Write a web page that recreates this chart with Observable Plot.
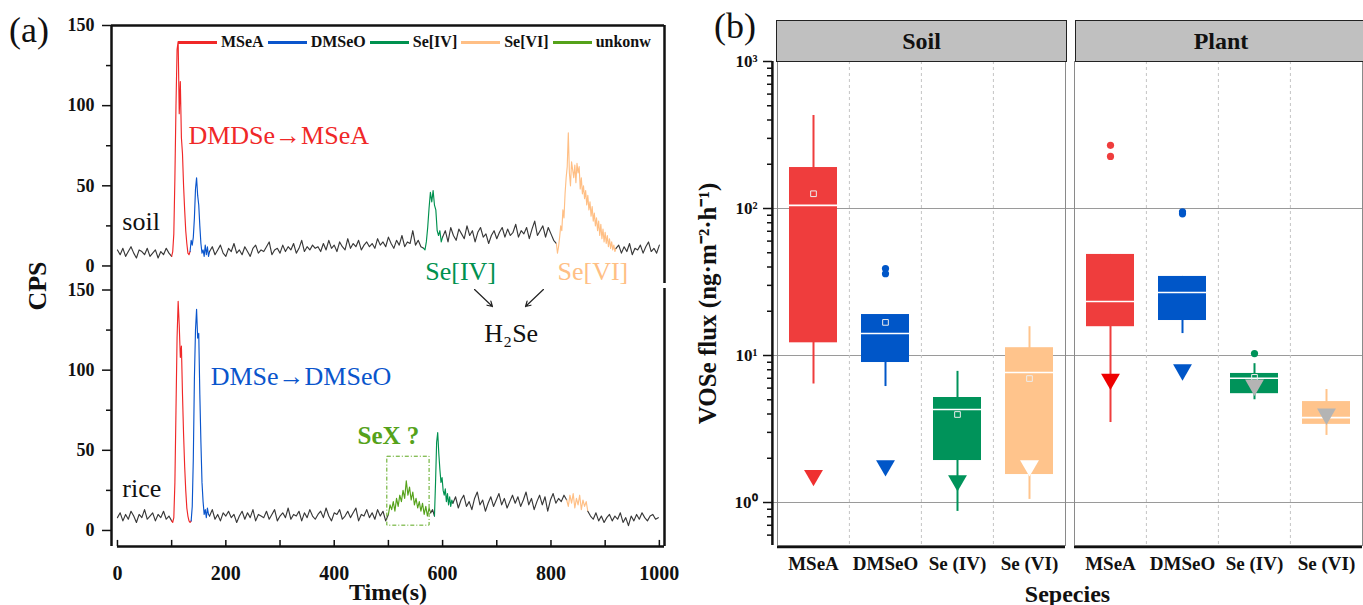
<!DOCTYPE html>
<html><head><meta charset="utf-8">
<script src="https://cdn.jsdelivr.net/npm/d3@7"></script>
<script src="https://cdn.jsdelivr.net/npm/@observablehq/plot@0.6"></script>
<style>
html,body{margin:0;padding:0;background:#fff;}
#root{position:relative;width:1363px;height:605px;overflow:hidden;font-family:"Liberation Serif","Times New Roman",Times,serif;color:#111;}
#panelA,#panelB{position:absolute;top:0;}
#panelA{left:0}
#panelB{left:690px}
.tag{position:absolute;font-size:36px;line-height:1;}
.legend{position:absolute;display:flex;align-items:center;font-weight:bold;font-size:16px;white-space:nowrap;line-height:1;}
.legend .sw{display:inline-block;width:39px;height:0;border-top:3px solid;margin:0 4px}
.strip{position:absolute;background:#c0c0c0;border:1.5px solid #222;box-sizing:border-box;display:flex;align-items:center;justify-content:center;font-weight:bold;font-size:24px;}
#panelA g[aria-label="y-axis label"] text{font-size:26px !important;font-weight:bold !important;}
#panelA g[aria-label="x-axis label"] text{font-size:24px !important;font-weight:bold !important;}
#panelB g[aria-label="y-axis label"] text{font-size:25px !important;font-weight:bold !important;}
#panelB g[aria-label="x-axis label"] text{font-size:24px !important;font-weight:bold !important;}
</style>
</head>
<body>
<div id="root">
  <div id="panelA"></div>
  <div id="panelB"></div>
</div>
<script>
// ---------------- DATA: panel (a) chromatograms ----------------
// each segment: [species, start time (s), sampling step (s), CPS values]
const soilSegments = [
  ["background", 0, 5, [10,7,11,6,9,12,8,5,10,9,7,11,6,8,10,5,9,7,11,8,6]],
  ["MSeA", 100, 2, [6,9,20,55,100,135,140,95,115,80,70,50,35,22,14,8,7,9]],
  ["DMSeO", 134, 2, [9,16,13,18,30,48,55,44,38,25,14,8,10,6,13,7,12,6,9]],
  ["background", 170, 5, [9,12,7,10,13,8,6,11,9,14,8,10,7,12,9,6,11,13,8,10,
                          9,12,15,7,10,11,8,13,9,12,10,14,8,11,16,9,12,10,13,11,
                          12,9,14,10,16,11,13,9,15,12,10,17,11,14,12,16,10,13,15,12,
                          14,11,17,13,15,12,18,14,11,16,13,19,12,15,14,22,13,16,12,11]],
  ["Se[IV]", 565, 2.5, [11,10,15,24,36,46,40,47,38,35,22,19,22,15,18]],
  ["background", 600, 5, [18,22,15,24,19,16,23,20,17,25,19,22,15,21,24,18,20,14,19,22,
                          17,21,24,18,23,19,21,26,18,22,20,24,17,23,28,19,22,25,18,24,20,16,14]],
  ["Se[VI]", 810, 2, [14,8,12,18,25,22,35,30,45,55,62,83,58,50,65,60,55,63,52,64,58,62,48,55,45,50,
                      42,47,38,44,35,40,31,37,28,33,25,30,22,28,19,26,17,23,15,21,14,19,12,17,11,15,10,13,9,11]],
  ["background", 920, 5, [11,13,8,12,9,14,7,11,10,13,8,12,15,9,11,8,13]]
];
const riceSegments = [
  ["background", 0, 5, [8,11,6,10,7,12,9,5,10,8,13,7,9,11,6,10,8,12,7,9,6]],
  ["MSeA", 100, 2, [6,5,8,30,75,120,143,128,108,115,85,60,40,25,14,9,6,5,6]],
  ["DMSeO", 136, 2, [6,15,45,95,125,138,120,123,85,55,30,18,10,13,8,14,10,9]],
  ["background", 170, 5, [9,13,7,10,6,11,9,12,8,10,5,9,12,7,11,8,13,6,10,9,
                          8,12,7,10,13,6,9,11,8,14,7,10,9,12,6,11,8,13,9,7,
                          10,12,8,14,9,6,11,10,13,7,9,12,8,11,14,6,10,9,13,8,
                          11,7,13,9,12,6,10]],
  ["unkonw", 500, 3, [10,16,13,18,12,20,15,22,18,25,20,31,22,27,19,24,16,20,14,18,12,17,10,15,9,14,11]],
  ["background", 578, 3.5, [11,13,9]],
  ["Se[IV]", 585, 2, [9,30,55,61,48,38,30,33,25,22,26,18,23,16,21,15,19,17]],
  ["background", 619, 5, [17,21,14,19,22,15,18,13,20,24,16,19,12,17,21,15,19,23,16,20,
                          14,18,22,17,21,15,19,24,16,20,13,18,22,16,21,12,19,23,17,20,18,22,19]],
  ["Se[VI]", 829, 3, [19,15,22,17,23,14,20,16,22,13,19,15,18,12]],
  ["background", 868, 5, [12,9,7,11,6,9,5,8,10,6,9,7,11,5,8,3,9,6,10,7,11,8,6,9,10,7,8]]
];
const legendSpecies = ["MSeA", "DMSeO", "Se[IV]", "Se[VI]", "unkonw"];
const cpsTicks = [0, 50, 100, 150];
const cpsMinorTicks = [25, 75, 125];
const timeTicks = [0, 200, 400, 600, 800, 1000];
const timeMinorTicks = [100, 300, 500, 700, 900];

// annotations of panel (a)
const annoText  = ["DMDSe→MSeA", "soil", "Se[IV]", "Se[VI]", "H₂Se", "DMSe→DMSeO", "rice"];
const annoTrace = ["soil", "soil", "soil", "soil", "rice", "rice", "rice"];
const annoTime  = [131, 9, 568, 812, 677, 172, 9];
const annoCps   = [81.5, 27.5, -3.4, -3.4, 122.5, 96, 26];
const annoKind  = ["MSeA", "background", "Se[IV]", "Se[VI]", "background", "DMSeO", "background"];
const sexLabel = {text: "SeX ?", time: 443, cps: 59};
const sexBox = {t1: 498, t2: 576, c1: 3, c2: 46};
const arrowFromTime = [659, 786], arrowToTime = [692, 753];
const arrowFromCps = [150.3, 150.3], arrowToCps = [139.7, 139.7];

// ---------------- DATA: panel (b) box plots ----------------
const groups = ["Soil", "Plant"];
const species = ["MSeA", "DMSeO", "Se (IV)", "Se (VI)"];
const soilLow      = [6.4, 6.15, 0.87, 1.05];
const soilQ1       = [12.2, 8.96, 1.93, 1.55];
const soilMedian   = [105, 14.1, 4.29, 7.66];
const soilQ3       = [190, 19.0, 5.18, 11.3];
const soilHigh     = [429, 19.0, 7.8, 15.7];
const soilMean     = [126, 16.8, 3.97, 6.97];
const soilTriangle = [1.53, 1.78, 1.41, 1.78];
const soilOutliers = [[], [39, 36], [], []];
const plantLow      = [3.5, 14.1, 5.0, 2.86];
const plantQ1       = [15.7, 17.3, 5.5, 3.4];
const plantMedian   = [23.3, 26.8, 7.0, 3.78];
const plantQ3       = [48.7, 34.5, 7.55, 4.86];
const plantHigh     = [48.7, 34.5, 8.8, 5.87];
const plantMean     = [null, null, 7.1, null];
const plantTriangle = [6.9, 8.0, 6.3, 4.0];
const plantOutliers = [[269, 226], [95, 92], [10.3], []];
const decadeTicks = [1, 10, 100, 1000];
const minorLogTicks = [0.6,0.7,0.8,0.9,2,3,4,5,6,7,8,9,20,30,40,50,60,70,80,90,200,300,400,500,600,700,800,900];

// ---------------- STYLES ----------------
const SERIF = '"Liberation Serif","Times New Roman",Times,serif';
const traceColor = {"background": "#383838", "MSeA": "#f02828", "DMSeO": "#0a55cc", "Se[IV]": "#00914f", "Se[VI]": "#ffbf85", "unkonw": "#55a21a"};
const boxColor = {"MSeA": "#ef3d3d", "DMSeO": "#0056c8", "Se (IV)": "#00935a", "Se (VI)": "#ffc48c"};
const triangleColor = {
  "Soil":  {"MSeA": "#ef3030", "DMSeO": "#0056c8", "Se (IV)": "#00935a", "Se (VI)": "#ffffff"},
  "Plant": {"MSeA": "#ee0000", "DMSeO": "#0056c8", "Se (IV)": "#b4b4b4", "Se (VI)": "#b4b4b4"}
};
const OFFSET = 165;        // vertical offset of the soil trace inside panel (a)
const xDomainA = [-11, 1009.5];
const yDomainA = [-10, 315];
const yDomainB = [0.51, 1000];

// ---------------- PANEL (a) ----------------
const rows = [];
function addTrace(segments, trace) {
  segments.forEach(([sp, start, step, vals], i) => {
    vals.forEach((v, j) => rows.push({t: start + j * step, cps: v, y: v + (trace === "soil" ? OFFSET : 0), species: sp, seg: trace + i}));
  });
}
addTrace(soilSegments, "soil");
addTrace(riceSegments, "rice");

const annos = annoText.map((text, i) => ({text, t: annoTime[i], y: annoCps[i] + (annoTrace[i] === "soil" ? OFFSET : 0), kind: annoKind[i]}));
const arrows = arrowFromTime.map((t, i) => ({x1: t, x2: arrowToTime[i], y1: arrowFromCps[i], y2: arrowToCps[i]}));
const yMajorA = [...cpsTicks, ...cpsTicks.map(d => d + OFFSET)];
const yMinorA = [...cpsMinorTicks, ...cpsMinorTicks.map(d => d + OFFSET)];
const cpsFmt = d => String(d >= OFFSET - 5 ? d - OFFSET : d);

const plotA = Plot.plot({
  width: 690, height: 605,
  marginLeft: 111, marginRight: 26, marginTop: 25, marginBottom: 59,
  style: {fontFamily: SERIF, background: "transparent", color: "#111", overflow: "visible"},
  x: {domain: xDomainA},
  y: {domain: yDomainA},
  marks: [
    Plot.line(rows, {x: "t", y: "y", z: "seg", stroke: d => traceColor[d.species], strokeWidth: 1.15}),
    Plot.rect([sexBox], {x1: "t1", x2: "t2", y1: "c1", y2: "c2", fill: "none", stroke: "#5aa61a", strokeWidth: 1, strokeDasharray: "4,2,1,2"}),
    Plot.text(annos, {x: "t", y: "y", text: "text", fill: d => traceColor[d.kind] === "#383838" ? "#111" : traceColor[d.kind], textAnchor: "start", fontSize: 26}),
    Plot.text([sexLabel], {x: "time", y: "cps", text: "text", fill: "#55a21a", textAnchor: "start", fontSize: 25, fontWeight: "bold"}),
    Plot.arrow(arrows, {x1: "x1", y1: "y1", x2: "x2", y2: "y2", stroke: "#222", strokeWidth: 1.2, headLength: 7}),
    // frame
    Plot.ruleX([xDomainA[0]], {x: d => d, y1: yDomainA[0], y2: yDomainA[1], stroke: "#111", strokeWidth: 2.5}),
    Plot.ruleY([yDomainA[1]], {y: d => d, x1: xDomainA[0], x2: xDomainA[1], stroke: "#111", strokeWidth: 2.5}),
    Plot.ruleX([xDomainA[1]], {x: d => d, y1: OFFSET - 11, y2: yDomainA[1], stroke: "#111", strokeWidth: 2.5}),
    Plot.ruleX([xDomainA[1]], {x: d => d, y1: yDomainA[0], y2: 151, stroke: "#111", strokeWidth: 2.5}),
    Plot.ruleY([yDomainA[0]], {y: d => d, x1: timeTicks[0], x2: xDomainA[1], stroke: "#111", strokeWidth: 2.5}),
    Plot.ruleX([...timeTicks, ...timeMinorTicks], {x: d => d, y1: yDomainA[0], y2: yDomainA[0] + 3.8, stroke: "#111", strokeWidth: 1.5}),
    // axes
    Plot.axisY(yMinorA, {tickSize: 5, tickFormat: () => "", strokeWidth: 1.5, label: null}),
    Plot.axisY(yMajorA, {tickSize: 9, tickPadding: 8, strokeWidth: 1.5, tickFormat: cpsFmt, fontSize: 18, fontWeight: "bold", label: "CPS", labelArrow: "none", labelAnchor: "center", labelOffset: 84}),
    Plot.axisX(timeTicks, {tickSize: 0, tickPadding: 19, tickFormat: d => String(d), fontSize: 20, fontWeight: "bold", label: "Time(s)", labelArrow: "none", labelAnchor: "center", labelOffset: 53})
  ]
});
document.getElementById("panelA").appendChild(plotA);

// ---------------- PANEL (b) ----------------
const boxRows = [];
const outRows = [];
function addGroup(g, low, q1, med, q3, high, mean, tri, outs) {
  species.forEach((s, i) => {
    boxRows.push({group: g, species: s, low: low[i], q1: q1[i], median: med[i], q3: q3[i], high: high[i], mean: mean[i], triangle: tri[i]});
    outs[i].forEach(v => outRows.push({group: g, species: s, value: v}));
  });
}
addGroup("Soil", soilLow, soilQ1, soilMedian, soilQ3, soilHigh, soilMean, soilTriangle, soilOutliers);
addGroup("Plant", plantLow, plantQ1, plantMedian, plantQ3, plantHigh, plantMean, plantTriangle, plantOutliers);

const sup = {"0": "⁰", "1": "¹", "2": "²", "3": "³"};
const triangleDown = {draw(context, size) {
  const y = Math.sqrt(size / (3 * Math.sqrt(3)));
  context.moveTo(0, 2 * y);
  context.lineTo(-Math.sqrt(3) * y, -y);
  context.lineTo(Math.sqrt(3) * y, -y);
  context.closePath();
}};
const HALF_BAND = 36.1;

const plotB = Plot.plot({
  width: 673, height: 605,
  marginLeft: 81, marginRight: 0, marginTop: 61, marginBottom: 60,
  style: {fontFamily: SERIF, background: "transparent", color: "#111", overflow: "visible"},
  fx: {domain: groups, paddingInner: 0.0134, axis: null},
  x: {domain: species, padding: 0, insetLeft: 5},
  y: {type: "log", domain: yDomainB},
  marks: [
    Plot.ruleY(decadeTicks.slice(0, 3), {y: d => d, stroke: "#9a9a9a", strokeWidth: 1.2, insetRight: -4}),
    Plot.ruleX(species.slice(1), {x: d => d, dx: -HALF_BAND, stroke: "#c4c4c4", strokeDasharray: "3,3"}),
    Plot.frame({stroke: "#8a8a8a", strokeWidth: 1, insetLeft: 5}),
    Plot.ruleX(boxRows, {fx: "group", x: "species", y1: "low", y2: "high", stroke: d => boxColor[d.species], strokeWidth: 2}),
    Plot.barY(boxRows, {fx: "group", x: "species", y1: "q1", y2: "q3", fill: d => boxColor[d.species], insetLeft: 12, insetRight: 12}),
    Plot.tickY(boxRows, {fx: "group", x: "species", y: "median", stroke: "white", strokeWidth: 1.6, insetLeft: 12, insetRight: 12}),
    Plot.dot(boxRows.filter(d => d.mean != null), {fx: "group", x: "species", y: "mean", symbol: "square", r: 3.2, fill: "none", stroke: "#ececec", strokeWidth: 1}),
    Plot.dot(outRows, {fx: "group", x: "species", y: "value", r: 3.6, fill: d => boxColor[d.species]}),
    Plot.dot(boxRows, {fx: "group", x: "species", y: "triangle", symbol: triangleDown, r: 7, fill: d => triangleColor[d.group][d.species], stroke: "none"}),
    // axis lines
    Plot.ruleY([yDomainB[0]], {y: d => d, stroke: "#111", strokeWidth: 2.5, insetLeft: 5, dy: 1.5}),
    Plot.ruleX([groups[0]], {fx: d => d, x: () => species[0], dx: -(HALF_BAND + 5), stroke: "#111", strokeWidth: 2.5}),
    Plot.axisY(minorLogTicks, {tickSize: 5, tickFormat: () => "", strokeWidth: 1.5, label: null}),
    Plot.axisY(decadeTicks, {tickSize: 9, tickPadding: 6, strokeWidth: 1.5, tickFormat: d => "10" + sup[String(Math.round(Math.log10(d)))], fontSize: 17, fontWeight: "bold",
      label: "VOSe flux (ng·m⁻²·h⁻¹)", labelArrow: "none", labelAnchor: "center", labelOffset: 74}),
    Plot.axisX({tickSize: 0, tickPadding: 11, fontSize: 19, fontWeight: "bold", label: "Sepecies", labelArrow: "none", labelAnchor: "center", labelOffset: 56})
  ]
});
document.getElementById("panelB").appendChild(plotB);

// ---------------- HTML overlays: panel tags, legend, facet strips ----------------
const root = document.getElementById("root");
function addDiv(cls, text, css) {
  const d = document.createElement("div");
  d.className = cls; d.textContent = text; Object.assign(d.style, css); root.appendChild(d); return d;
}
addDiv("tag", "(a)", {left: "9px", top: "12px"});
addDiv("tag", "(b)", {left: "714px", top: "8px"});
addDiv("strip", groups[0], {left: "776px", top: "20px", width: "291px", height: "42px"});
addDiv("strip", groups[1], {left: "1075px", top: "20px", width: "292px", height: "42px"});
const legend = addDiv("legend", "", {left: "174px", top: "34px"});
legendSpecies.forEach(s => {
  const sw = document.createElement("span"); sw.className = "sw"; sw.style.borderTopColor = traceColor[s];
  const tx = document.createElement("span"); tx.textContent = s;
  legend.appendChild(sw); legend.appendChild(tx);
});
</script>
</body></html>
